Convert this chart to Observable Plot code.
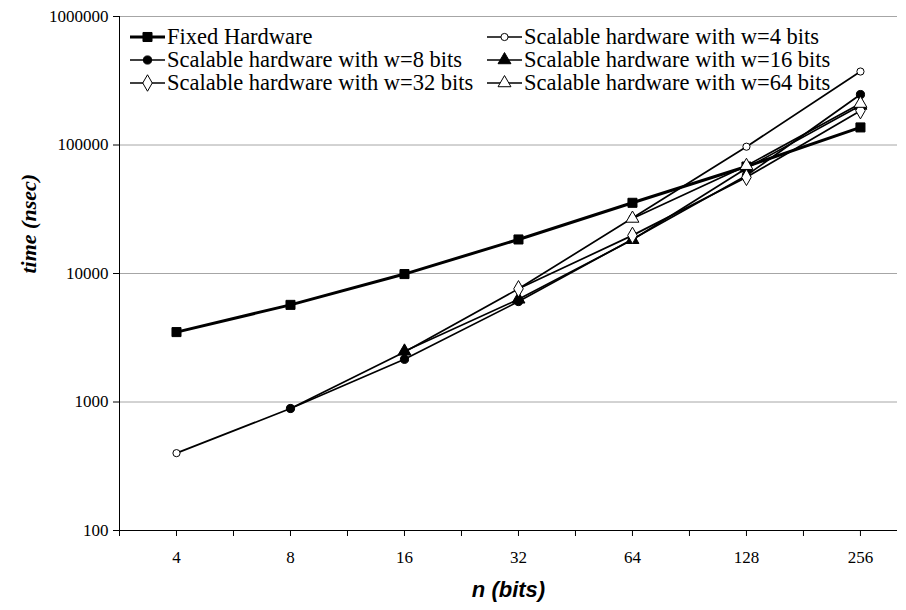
<!DOCTYPE html>
<html><head><meta charset="utf-8">
<script src="https://cdn.jsdelivr.net/npm/d3@7"></script>
<script src="https://cdn.jsdelivr.net/npm/@observablehq/plot@0.6"></script>
<style>
body{margin:0;background:#fff;}
#wrap{position:relative;width:906px;height:610px;background:#fff;}
#legend{position:absolute;left:0;top:0;font-family:"Liberation Serif",serif;font-size:22.5px;color:#000;}
.item{position:absolute;display:flex;align-items:center;white-space:nowrap;line-height:1;height:22px;}
.item svg{margin-right:2px;}
</style></head><body>
<div id="wrap"><div id="chart"></div><div id="legend"></div></div>
<script>
const nValues = [4, 8, 16, 32, 64, 128, 256];
const seriesNames = [
  "Fixed Hardware",
  "Scalable hardware with w=4 bits",
  "Scalable hardware with w=8 bits",
  "Scalable hardware with w=16 bits",
  "Scalable hardware with w=32 bits",
  "Scalable hardware with w=64 bits"
];
const fixedHardware = [3500, 5700, 9900, 18400, 35500, 68000, 137000];
const scalableW4  = [400, 890, 2450, 7600, 27000, 97000, 373000];
const scalableW8  = [null, 890, 2150, 6050, 18500, 58000, 247000];
const scalableW16 = [null, null, 2480, 6300, 18300, 66000, 203000];
const scalableW32 = [null, null, null, 7600, 19800, 56000, 185000];
const scalableW64 = [null, null, null, null, 26800, 69000, 210000];
const yTickValues = [100, 1000, 10000, 100000, 1000000];

const seriesValues = [fixedHardware, scalableW4, scalableW8, scalableW16, scalableW32, scalableW64];
const symbols = ["square", "circle", "circle", "triangle", "diamond", "triangle"];
const fills = ["black", "white", "black", "black", "white", "white"];
const widths = [3, 1.7, 1.7, 1.7, 1.7, 1.7];
const sizes = [5.1, 3.6, 4.1, 4.8, 5.0, 4.8];

const rows = seriesNames.map((s, i) =>
  nValues.map((n, j) => ({series: s, n, time: seriesValues[i][j]})).filter(d => d.time != null));

const xDomain = [Math.pow(2, 1.5), Math.pow(2, 8.325)];
const boundaries = d3.range(1.5, 8.4, 1).map(k => Math.pow(2, k));
const serif = "Liberation Serif";

const marks = [
  Plot.ruleY(yTickValues.filter(v => v > 100), {stroke: "#a6a6a6", strokeWidth: 1}),
  Plot.axisX({ticks: boundaries, tickFormat: () => "", tickSize: 6, label: null}),
  Plot.axisX({ticks: nValues, tickFormat: d => String(d), tickSize: 6, tickPadding: 14, label: null, fontSize: 17, fontFamily: serif}),
  Plot.axisY({ticks: yTickValues, tickFormat: d => String(d), tickSize: 6, tickPadding: 5, label: null, fontSize: 17, fontFamily: serif}),
  Plot.ruleY([100], {stroke: "black"}),
  Plot.ruleX([xDomain[0]], {stroke: "black"}),
  Plot.text(["time (nsec)"], {frameAnchor: "left", dx: -91, rotate: -90, fontSize: 22, fontWeight: "bold", fontStyle: "italic", fontFamily: serif}),
  Plot.text(["n (bits)"], {frameAnchor: "bottom", dy: 66, fontSize: 22, fontWeight: "bold", fontStyle: "italic", fontFamily: "Liberation Sans"})
];
rows.forEach((r, i) => {
  marks.push(Plot.line(r, {x: "n", y: "time", stroke: "black", strokeWidth: widths[i]}));
});
rows.forEach((r, i) => {
  marks.push(Plot.dot(r, {x: "n", y: "time", symbol: () => symbols[i], r: sizes[i], fill: fills[i], stroke: "black", strokeWidth: 1}));
});

const chart = Plot.plot({
  width: 906, height: 610,
  marginLeft: 119, marginRight: 9, marginTop: 16, marginBottom: 80,
  style: {fontFamily: serif, fontSize: "17px", background: "white", color: "black"},
  x: {type: "log", base: 2, domain: xDomain, axis: null},
  y: {type: "log", domain: [100, 1000000], axis: null},
  symbol: {type: "identity"},
  marks
});
document.getElementById("chart").appendChild(chart);

// legend (HTML overlay inside the plot area)
const legend = document.getElementById("legend");
const legendPos = [[130, 37], [487, 37], [130, 60], [487, 60], [130, 83], [487, 83]];
const symGen = {square: d3.symbolSquare, circle: d3.symbolCircle, triangle: d3.symbolTriangle, diamond: d3.symbolDiamond};
seriesNames.forEach((s, i) => {
  const div = document.createElement("div");
  div.className = "item";
  div.style.left = legendPos[i][0] + "px";
  div.style.top = (legendPos[i][1] - 11) + "px";
  const r = sizes[i];
  const path = d3.symbol(symGen[symbols[i]], Math.PI * r * r)();
  div.innerHTML = `<svg width="35" height="22"><line x1="0" x2="35" y1="11" y2="11" stroke="black" stroke-width="${widths[i]}"/><path transform="translate(17.5,11)" d="${path}" fill="${fills[i]}" stroke="black"/></svg>`;
  const span = document.createElement("span");
  span.textContent = s;
  div.appendChild(span);
  legend.appendChild(div);
});
</script></body></html>
